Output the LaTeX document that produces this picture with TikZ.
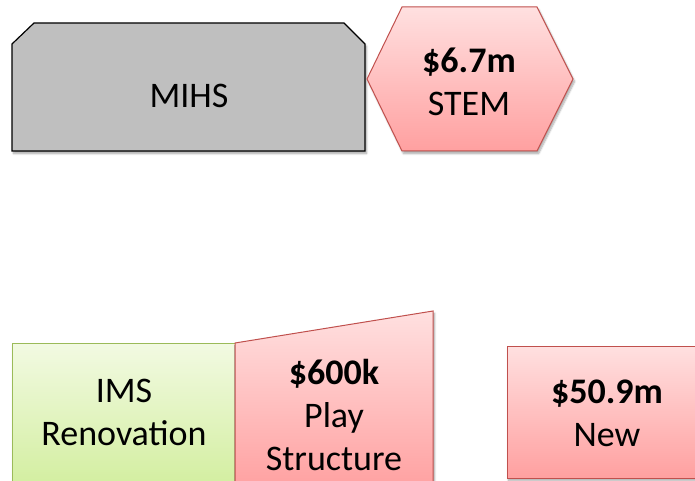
\documentclass[tikz,border=0pt]{standalone}
\usepackage{fontspec}
\setmainfont{Carlito}
\usetikzlibrary{shadows.blur}
\definecolor{redline}{HTML}{C0504D}
\definecolor{redtop}{HTML}{FFE0E0}
\definecolor{redbot}{HTML}{FFA0A0}
\definecolor{greenline}{HTML}{9BBB59}
\definecolor{greentop}{HTML}{F2FAE2}
\definecolor{greenbot}{HTML}{D2EE9E}
\definecolor{grayfill}{HTML}{BFBFBF}
\tikzset{
  shd/.style={blur shadow={shadow xshift=1.5pt, shadow yshift=-2.5pt, shadow blur radius=2pt, shadow blur steps=6, shadow opacity=35}},
  redshape/.style={shd, draw=redline, line width=1pt, top color=redtop, bottom color=redbot},
  greenshape/.style={shd, draw=greenline, line width=1pt, top color=greentop, bottom color=greenbot},
  grayshape/.style={shd, draw=black, line width=1.2pt, fill=grayfill},
  lbl/.style={align=center, font=\fontsize{36}{43}\selectfont, inner sep=0pt},
}
\begin{document}
\begin{tikzpicture}[x=1pt,y=-1pt]
\useasboundingbox (0,0) rectangle (695,481);
\begin{scope}
\clip (0,0) rectangle (695,481);
% MIHS
\draw[grayshape] (12,151) -- (12,44) -- (34,23) -- (344,23) -- (365,44) -- (365,151) -- cycle;
% STEM hexagon
\draw[redshape] (367,79) -- (402,7) -- (537,7) -- (573,79) -- (537,151) -- (402,151) -- cycle;
% IMS
\draw[greenshape] (12,343) rectangle (235,490);
% Play structure
\draw[redshape] (235,343) -- (433,311) -- (433,490) -- (235,490) -- cycle;
% New
\draw[redshape] (507,346) rectangle (710,478);
\end{scope}
\node[lbl] (mihs) at (189,96) {MIHS};
\node[lbl] (stem) at (469,82) {\textbf{\$6.7m}\\STEM};
\node[lbl] (ims) at (124,412) {IMS\\Renovation};
\node[lbl] (play) at (334,415) {\textbf{\$600k}\\Play\\Structure};
\node[lbl] (new) at (607,413) {\textbf{\$50.9m}\\New};
\end{tikzpicture}
\end{document}
